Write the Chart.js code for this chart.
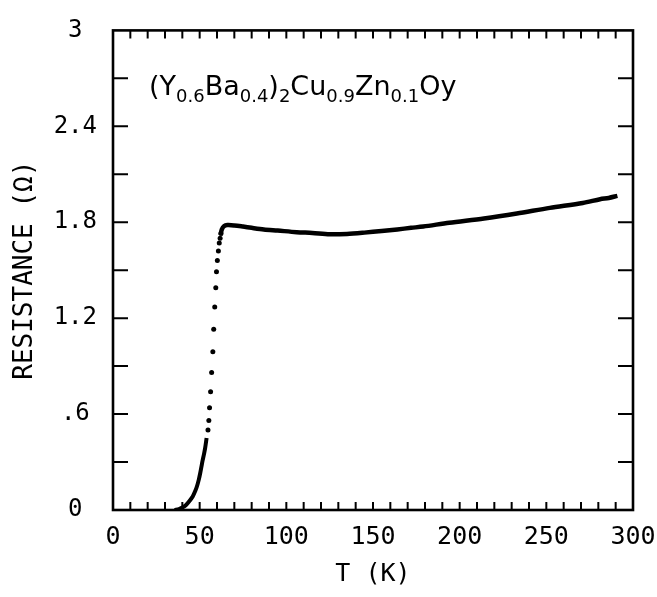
<!DOCTYPE html>
<html>
<head>
<meta charset="utf-8">
<script src="https://cdn.jsdelivr.net/npm/chart.js@4.4.1/dist/chart.umd.min.js"></script>
<style>
  html, body { margin: 0; padding: 0; background: #fff; }
  #wrap { width: 657px; height: 597px; }
</style>
</head>
<body>
<div id="wrap"><canvas id="chart" width="657" height="597"></canvas></div>
<script>
// Data: T (K) vs resistance (ohm)
const lowT  = [35.5, 38, 40, 42, 44, 46, 47.5, 48.5, 49.5, 50.3, 51, 51.7, 52.5, 53.2, 54];
const lowR  = [0, 0.005, 0.015, 0.03, 0.055, 0.085, 0.12, 0.15, 0.19, 0.23, 0.27, 0.31, 0.35, 0.39, 0.45];

const dotT  = [54.8, 55.3, 55.7, 56.3, 56.9, 57.6, 58.1, 58.7, 59.3, 59.7, 60.2, 60.8, 61.3, 61.8, 62.3];
const dotR  = [0.50, 0.56, 0.64, 0.74, 0.86, 0.99, 1.13, 1.27, 1.39, 1.49, 1.56, 1.62, 1.67, 1.70, 1.73];

const normT = [62, 62.8, 64, 66, 70, 75, 80, 87, 95, 106, 115, 125, 135, 145, 155, 164, 172, 179,
               194, 214, 233, 252, 271, 281, 286, 291];
const normR = [1.72, 1.755, 1.775, 1.782, 1.78, 1.773, 1.765, 1.755, 1.748, 1.738, 1.733, 1.725, 1.727,
               1.735, 1.745, 1.755, 1.765, 1.773, 1.797, 1.824, 1.855, 1.89, 1.92, 1.944, 1.952, 1.965];

const xTickLabels = ['0', '50', '100', '150', '200', '250', '300'];
const yTickLabels = ['0', '.6', '1.2', '1.8', '2.4', '3'];

// formula pieces: [text, isSubscript]
const formula = [['(Y', 0], ['0.6', 1], ['Ba', 0], ['0.4', 1], [')', 0], ['2', 1],
                 ['Cu', 0], ['0.9', 1], ['Zn', 0], ['0.1', 1], ['Oy', 0]];

const pts = (xs, ys) => xs.map((x, i) => ({ x: x, y: ys[i] }));

const MONO = '"DejaVu Sans Mono", "Liberation Mono", monospace';

// frame + inward ticks on all four sides
const framePlugin = {
  id: 'frame',
  afterDatasetsDraw(chart) {
    const { ctx, chartArea: a, scales: { x, y } } = chart;
    ctx.save();
    ctx.strokeStyle = '#000';
    ctx.lineWidth = 2;
    ctx.beginPath();
    for (let t = 10; t < 300; t += 10) {
      const px = x.getPixelForValue(t);
      ctx.moveTo(px, a.bottom); ctx.lineTo(px, a.bottom - 8);
      ctx.moveTo(px, a.top); ctx.lineTo(px, a.top + 8);
    }
    for (let r = 0.3; r < 2.95; r += 0.3) {
      const py = y.getPixelForValue(r);
      ctx.moveTo(a.left, py); ctx.lineTo(a.left + 15, py);
      ctx.moveTo(a.right, py); ctx.lineTo(a.right - 15, py);
    }
    ctx.stroke();
    ctx.lineWidth = 2.6;
    ctx.strokeRect(a.left, a.top, a.right - a.left, a.bottom - a.top);

    // sample label
    let cx = 149;
    const base = 95;
    ctx.fillStyle = '#000';
    ctx.textBaseline = 'alphabetic';
    ctx.textAlign = 'left';
    formula.forEach(([s, sub]) => {
      ctx.font = sub ? '18px "DejaVu Sans", sans-serif' : '27px "DejaVu Sans", sans-serif';
      ctx.fillText(s, cx, sub ? base + 7 : base);
      cx += ctx.measureText(s).width;
    });
    ctx.restore();
  }
};

new Chart(document.getElementById('chart'), {
  type: 'scatter',
  data: {
    datasets: [
      {
        data: pts(lowT, lowR),
        showLine: true,
        borderColor: '#000',
        borderWidth: 4,
        pointRadius: 0,
        tension: 0.3
      },
      {
        data: pts(dotT, dotR),
        backgroundColor: '#000',
        borderColor: '#000',
        pointRadius: 2.5,
        borderWidth: 0
      },
      {
        data: pts(normT, normR),
        showLine: true,
        borderColor: '#000',
        borderWidth: 4.5,
        pointRadius: 0,
        tension: 0.3
      }
    ]
  },
  options: {
    responsive: false,
    animation: false,
    layout: { padding: { left: 10, top: 25, right: 0, bottom: 8 } },
    plugins: { legend: { display: false }, tooltip: { enabled: false } },
    scales: {
      x: {
        type: 'linear',
        min: 0,
        max: 300,
        afterFit: (s) => { s.height = 79; s.paddingRight = 24; },
        grid: { display: false, drawTicks: false },
        border: { display: false },
        ticks: {
          stepSize: 50,
          padding: 12,
          color: '#000',
          font: { family: MONO, size: 25 },
          callback: (v, i) => xTickLabels[i]
        },
        title: {
          display: true,
          text: 'T (K)',
          color: '#000',
          padding: 0,
          font: { family: MONO, size: 25 }
        }
      },
      y: {
        min: 0,
        max: 3,
        afterFit: (s) => { s.width = 103; },
        grid: { display: false, drawTicks: false },
        border: { display: false },
        ticks: {
          stepSize: 0.6,
          padding: 16,
          crossAlign: 'center',
          color: '#000',
          font: { family: MONO, size: 24 },
          callback: (v, i) => yTickLabels[i]
        },
        title: {
          display: true,
          text: 'RESISTANCE (Ω)',
          color: '#000',
          padding: 0,
          font: { family: MONO, size: 26 }
        }
      }
    }
  },
  plugins: [framePlugin]
});
</script>
</body>
</html>
